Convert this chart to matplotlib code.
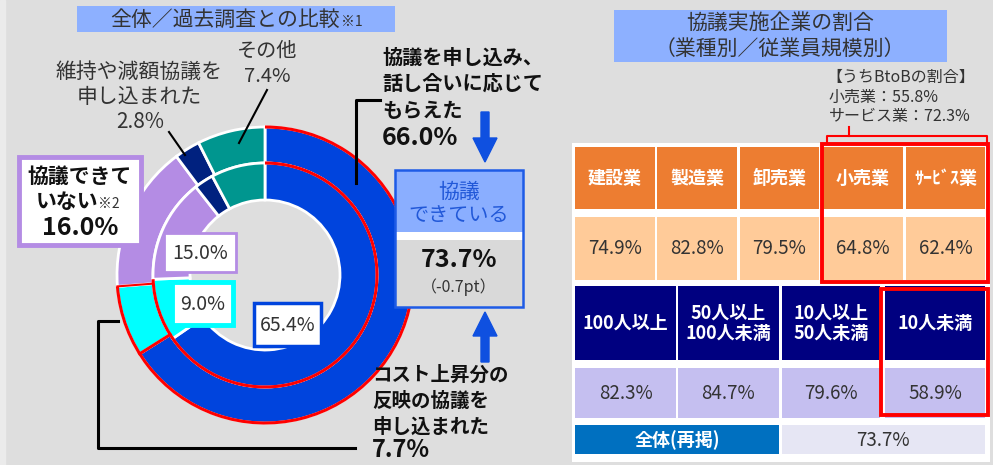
import matplotlib
matplotlib.use("Agg")
import matplotlib.pyplot as plt
import numpy as np
from matplotlib.patches import Rectangle, Arc, FancyArrow

plt.rcParams["font.family"] = ["Noto Sans CJK JP", "DejaVu Sans"]

W, H = 993, 465

# ── data ─────────────────────────────────────────────
seg_names = ["応じてもらえた", "申し込まれた", "協議できていない", "維持・減額", "その他"]
outer_vals = [66.0, 7.7, 16.0, 2.8, 7.4]      # 今回調査
inner_vals = [65.4, 9.0, 15.0, 2.8, 7.8]      # 過去調査
seg_colors = ["#0044DD", "#00FFFF", "#B48CE4", "#00217F", "#00968F"]
total_ok = 73.7
total_diff = -0.7

industries = ["建設業", "製造業", "卸売業", "小売業", "ｻｰﾋﾞｽ業"]
industry_vals = [74.9, 82.8, 79.5, 64.8, 62.4]
sizes = ["100人以上", "50人以上\n100人未満", "10人以上\n50人未満", "10人未満"]
size_vals = [82.3, 84.7, 79.6, 58.9]
btob = [("小売業", 55.8), ("サービス業", 72.3)]

DARK = "#333333"
RED = "#FF0000"

fig = plt.figure(figsize=(W / 100, H / 100), dpi=100)
fig.patch.set_facecolor("#DEDEDE")

# ── donut (own axes, pixel units around the centre) ──
cx, cy, R = 265, 275, 150
dax = fig.add_axes([(cx - R) / W, (H - cy - R) / H, 2 * R / W, 2 * R / H], zorder=1)
dax.set_xlim(-R, R); dax.set_ylim(-R, R)
dax.pie(outer_vals, radius=148, startangle=90, counterclock=False, colors=seg_colors,
        wedgeprops=dict(width=36, edgecolor="white", linewidth=2), frame=True)
dax.pie(inner_vals, radius=112, startangle=90, counterclock=False, colors=seg_colors,
        wedgeprops=dict(width=37, edgecolor="white", linewidth=2), frame=True)
dax.axis("off")

# red outline of the "協議できている" share
f_out = (outer_vals[0] + outer_vals[1]) / sum(outer_vals)
f_in = (inner_vals[0] + inner_vals[1]) / sum(inner_vals)
dax.add_patch(Arc((0, 0), 296, 296, theta1=90 - 360 * f_out, theta2=90, color=RED, lw=2.2))
dax.add_patch(Arc((0, 0), 224, 224, theta1=90 - 360 * f_in, theta2=90, color=RED, lw=2.2))
a = np.radians(90 - 360 * outer_vals[0] / sum(outer_vals))
dax.plot([112 * np.cos(a), 148 * np.cos(a)], [112 * np.sin(a), 148 * np.sin(a)], color=RED, lw=2.2)
a2 = np.radians(90 - 360 * f_out)
dax.plot([112 * np.cos(a2), 148 * np.cos(a2)], [112 * np.sin(a2), 148 * np.sin(a2)], color=RED, lw=1.5)

# ── overlay axes in pixel coords ─────────────────────
ax = fig.add_axes([0, 0, 1, 1], zorder=3)
ax.set_xlim(0, W); ax.set_ylim(H, 0)
ax.axis("off")
ax.patch.set_alpha(0)

ax.add_patch(Rectangle((0, 0), 5, H, color="#EBEBEB", zorder=0))


def box(x0, y0, x1, y1, fc="white", ec="none", lw=0, z=2):
    ax.add_patch(Rectangle((x0, y0), x1 - x0, y1 - y0, facecolor=fc, edgecolor=ec, lw=lw, zorder=z))


# left title
box(77, 6, 395, 32, fc="#8DB0FF")
ax.text(340, 26, "全体／過去調査との比較", ha="right", va="baseline", fontsize=15, color=DARK)
ax.text(341, 26, "※1", ha="left", va="baseline", fontsize=10, color=DARK)

# その他 / 維持や減額
ax.text(267, 51, "その他", ha="center", va="center", fontsize=14.5, color=DARK)
ax.text(267, 77, f"{outer_vals[4]:.1f}%", ha="center", va="center", fontsize=14.5, color=DARK)
ax.plot([267, 239], [90, 143], color="black", lw=1.5)
ax.text(139, 72, "維持や減額協議を", ha="center", va="center", fontsize=15, color=DARK)
ax.text(139, 97, "申し込まれた", ha="center", va="center", fontsize=15, color=DARK)
ax.text(140, 122, f"{outer_vals[3]:.1f}%", ha="center", va="center", fontsize=15, color=DARK)
ax.plot([169, 185], [132, 155], color="black", lw=1.5)

# 協議できていない box
box(19, 157, 141, 245, fc="white", ec=seg_colors[2], lw=3.5)
ax.text(80, 176, "協議できて", ha="center", va="center", fontsize=15, fontweight="bold", color="#111111")
ax.text(98, 208, "いない", ha="right", va="baseline", fontsize=15, fontweight="bold", color="#111111")
ax.text(98, 208, "※2", ha="left", va="baseline", fontsize=10, color=DARK)
ax.text(80, 228, f"{outer_vals[2]:.1f}%", ha="center", va="center", fontsize=18, fontweight="bold", color="#111111")

# inner value labels
box(164, 233, 236, 272, fc="white", ec=seg_colors[2], lw=2)
ax.text(200, 253, f"{inner_vals[2]:.1f}%", ha="center", va="center", fontsize=14, color=DARK, zorder=3)
box(172, 282, 233, 325, fc="white", ec=seg_colors[1], lw=3.5)
ax.text(203, 304, f"{inner_vals[1]:.1f}%", ha="center", va="center", fontsize=14, color=DARK, zorder=3)
box(254, 303, 321, 346, fc="white", ec=seg_colors[0], lw=2.5)
ax.text(288, 325, f"{inner_vals[0]:.1f}%", ha="center", va="center", fontsize=14, color=DARK, zorder=3)

# 応じてもらえた callout
for yy, s in zip([57, 83, 110], ["協議を申し込み、", "話し合いに応じて", "もらえた"]):
    ax.text(382, yy, s, ha="left", va="center", fontsize=14.5, fontweight="bold", color="#111111")
ax.text(382, 138, f"{outer_vals[0]:.1f}%", ha="left", va="center", fontsize=18, fontweight="bold", color="#111111")
ax.plot([356, 356, 380], [183, 100, 100], color="black", lw=2.2)

# 申し込まれた callout
for yy, s in zip([375, 401, 427], ["コスト上昇分の", "反映の協議を", "申し込まれた"]):
    ax.text(372, yy, s, ha="left", va="center", fontsize=14, fontweight="bold", color="#111111")
ax.text(372, 450, f"{outer_vals[1]:.1f}%", ha="left", va="center", fontsize=17, fontweight="bold", color="#111111")
ax.plot([118, 98, 98, 355], [321, 321, 448, 448], color="black", lw=2.2)

# arrows
ax.add_patch(FancyArrow(485, 112, 0, 50, width=8, head_width=24, head_length=24,
                        length_includes_head=True, color="#0F50E0", zorder=3))
ax.add_patch(FancyArrow(485, 362, 0, -50, width=8, head_width=24, head_length=24,
                        length_includes_head=True, color="#0F50E0", zorder=3))

# 協議できている box
box(395, 170, 523, 232, fc="#8AAEFF")
box(395, 232, 523, 240, fc="white")
box(395, 240, 523, 307, fc="#D9D9D9")
box(395, 170, 523, 307, fc="none", ec="#1E5BE6", lw=1.8, z=3)
ax.text(459, 192, "協議", ha="center", va="center", fontsize=15, color="#2158D8", zorder=4)
ax.text(459, 215, "できている", ha="center", va="center", fontsize=14.5, color="#2158D8", zorder=4)
ax.text(459, 260, f"{total_ok:.1f}%", ha="center", va="center", fontsize=18, fontweight="bold", color="#111111", zorder=4)
ax.text(459, 287, f"（{total_diff:.1f}pt）", ha="center", va="center", fontsize=11.5, color=DARK, zorder=4)

# ── right panel ─────────────────────────────────────
box(614, 10, 947, 62, fc="#8DB0FF")
ax.text(780, 23, "協議実施企業の割合", ha="center", va="center", fontsize=15, color=DARK)
ax.text(780, 49, "（業種別／従業員規模別）", ha="center", va="center", fontsize=15, color=DARK)

ax.text(826, 77, "【うちBtoBの割合】", ha="left", va="center", fontsize=11.5, color=DARK)
for i, (name, v) in enumerate(btob):
    ax.text(829, 97 + 19 * i, f"{name}：{v:.1f}%", ha="left", va="center", fontsize=11.5, color=DARK)
ax.plot([827, 827, 987, 987], [144, 136, 136, 144], color=RED, lw=1.5)
ax.plot([849, 849], [127, 136], color=RED, lw=1.5)

# table
box(572, 143, 990, 462, fc="white", z=1)
ind_x = [(575, 655), (657, 737), (740, 819), (823, 903), (906, 985)]
for (x0, x1), name, v in zip(ind_x, industries, industry_vals):
    box(x0, 147, x1, 209, fc="#ED7D31")
    ax.text((x0 + x1) / 2, 178, name, ha="center", va="center", fontsize=13, fontweight="bold", color="white", zorder=3)
    box(x0, 217, x1, 280, fc="#FFCB99")
    ax.text((x0 + x1) / 2, 248, f"{v:.1f}%", ha="center", va="center", fontsize=13.5, color=DARK, zorder=3)

size_x = [(575, 676), (678, 779), (782, 880), (885, 985)]
for (x0, x1), name, v in zip(size_x, sizes, size_vals):
    box(x0, 286, x1, 360, fc="#000080")
    ax.text((x0 + x1) / 2, 323, name, ha="center", va="center", fontsize=13, fontweight="bold",
            color="white", linespacing=1.1, zorder=3)
    box(x0, 368, x1, 418, fc="#C5BFF0")
    ax.text((x0 + x1) / 2, 393, f"{v:.1f}%", ha="center", va="center", fontsize=13.5, color=DARK, zorder=3)

box(575, 425, 779, 454, fc="#0070C0")
ax.text(677, 440, "全体(再掲)", ha="center", va="center", fontsize=13, fontweight="bold", color="white", zorder=3)
box(782, 425, 985, 454, fc="#E6E6F4")
ax.text(883, 440, f"{total_ok:.1f}%", ha="center", va="center", fontsize=13.5, color=DARK, zorder=3)

# red highlight frames
box(822, 144, 988, 282, fc="none", ec=RED, lw=2.8, z=4)
box(881, 289, 988, 415, fc="none", ec=RED, lw=2.8, z=4)

fig.savefig("out.png", dpi=100, facecolor=fig.get_facecolor())
